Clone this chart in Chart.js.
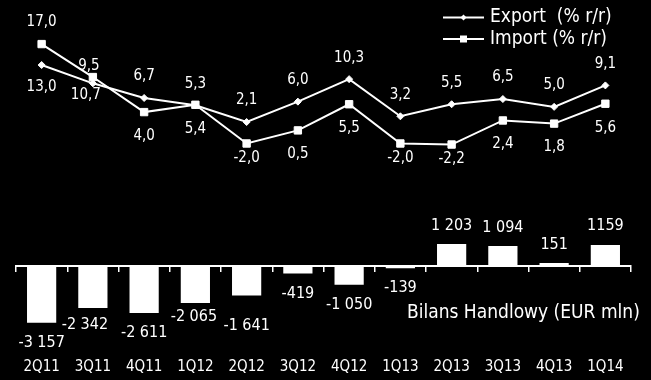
<!DOCTYPE html>
<html>
<head>
<meta charset="utf-8">
<script src="https://cdn.jsdelivr.net/npm/chart.js@4/dist/chart.umd.min.js"></script>
<style>
  html, body { margin: 0; padding: 0; background: #000; }
  #wrap { width: 651px; height: 380px; position: relative; }
</style>
</head>
<body>
<div id="wrap"><canvas id="c"></canvas></div>
<script>
// ---- data ----
const categories = ['2Q11','3Q11','4Q11','1Q12','2Q12','3Q12','4Q12','1Q13','2Q13','3Q13','4Q13','1Q14'];
const exportYoY = [13.0, 9.5, 6.7, 5.3, 2.1, 6.0, 10.3, 3.2, 5.5, 6.5, 5.0, 9.1];
const importYoY = [17.0, 10.7, 4.0, 5.4, -2.0, 0.5, 5.5, -2.0, -2.2, 2.4, 1.8, 5.6];
const tradeBalance = [-3157, -2342, -2611, -2065, -1641, -419, -1050, -139, 1203, 1094, 151, 1159];
const tradeBalanceLabels = ['-3 157','-2 342','-2 611','-2 065','-1 641','-419','-1 050','-139','1 203','1 094','151','1159'];
const seriesNames = ['Export  (% r/r)', 'Import (% r/r)'];
const balanceTitle = 'Bilans Handlowy (EUR mln)';

// ---- label placement (pixel nudges relative to each mark) ----
const exportLabelDx = [0,-4,0,0,0,0,0,0,0,0,0,0];
const exportLabelDy = [22,-17,-21.5,-21.5,-21.5,-21.5,-21.5,-21.5,-21.5,-21.5,-21.5,-21.5];
const importLabelDx = [0,-7,0,0,0,0,0,0,0,0,0,0];
const importLabelDy = [-22,18,24,24,15,24,24,15,15,24,24,24];
const barLabelDx = [0,-8,0,-1.5,0,0,0,0,0,0,0,0];
const barLabelDy = [20,17,20,14,30,20,20,20,-18.5,-18.5,-18.5,-19.5];

const FONT = '"DejaVu Sans Condensed", "DejaVu Sans", sans-serif';
const fmt = v => v.toFixed(1).replace('.', ',');

function drawMarker(ctx, style, x, y, r) {
  ctx.beginPath();
  if (style === 'rectRot') {
    ctx.moveTo(x - r, y); ctx.lineTo(x, y - r); ctx.lineTo(x + r, y); ctx.lineTo(x, y + r); ctx.closePath();
  } else {
    ctx.rect(x - r, y - r, 2 * r, 2 * r);
  }
  ctx.fill();
}

const overlay = {
  id: 'overlay',
  beforeDraw(chart) {
    const ctx = chart.ctx;
    ctx.save();
    ctx.fillStyle = '#000';
    ctx.fillRect(0, 0, chart.width, chart.height);
    ctx.restore();
  },
  afterDatasetsDraw(chart) {
    const ctx = chart.ctx;
    ctx.save();
    ctx.fillStyle = '#fff';
    ctx.textAlign = 'center';
    ctx.textBaseline = 'middle';
    ctx.font = '16px ' + FONT;
    chart.getDatasetMeta(0).data.forEach((el, i) => {
      ctx.fillText(tradeBalanceLabels[i], el.x + barLabelDx[i], el.y + barLabelDy[i]);
    });
    ctx.font = '15px ' + FONT;
    chart.getDatasetMeta(1).data.forEach((el, i) => {
      ctx.fillText(fmt(exportYoY[i]), el.x + exportLabelDx[i], el.y + exportLabelDy[i]);
    });
    chart.getDatasetMeta(2).data.forEach((el, i) => {
      ctx.fillText(fmt(importYoY[i]), el.x + importLabelDx[i], el.y + importLabelDy[i]);
    });
    ctx.restore();
  },
  afterDraw(chart) {
    const ctx = chart.ctx;
    ctx.save();
    ctx.fillStyle = '#fff';
    ctx.strokeStyle = '#fff';
    const rows = [
      { name: seriesNames[0], y: 17.5, style: 'rectRot', r: 3 },
      { name: seriesNames[1], y: 39, style: 'rect', r: 3.5 }
    ];
    ctx.font = '19px ' + FONT;
    ctx.textAlign = 'left';
    ctx.textBaseline = 'middle';
    rows.forEach(row => {
      ctx.lineWidth = 2;
      ctx.beginPath();
      ctx.moveTo(443, row.y); ctx.lineTo(484, row.y); ctx.stroke();
      drawMarker(ctx, row.style, 463.5, row.y, row.r);
      ctx.fillText(row.name, 490, row.y);
    });
    ctx.fillText(balanceTitle, 407, 313);
    ctx.restore();
  }
};

new Chart(document.getElementById('c'), {
  type: 'bar',
  data: {
    labels: categories,
    datasets: [
      {
        type: 'bar',
        label: balanceTitle,
        data: tradeBalance,
        yAxisID: 'y2',
        backgroundColor: '#fff',
        borderWidth: 0,
        barPercentage: 0.57,
        categoryPercentage: 1.0,
        order: 3
      },
      {
        type: 'line',
        label: seriesNames[0],
        data: exportYoY,
        yAxisID: 'y',
        borderColor: '#fff',
        backgroundColor: '#fff',
        borderWidth: 2,
        pointStyle: 'rectRot',
        pointRadius: 3.5,
        pointBorderWidth: 1,
        pointBorderColor: '#fff',
        pointBackgroundColor: '#fff',
        tension: 0,
        fill: false,
        order: 2
      },
      {
        type: 'line',
        label: seriesNames[1],
        data: importYoY,
        yAxisID: 'y',
        borderColor: '#fff',
        backgroundColor: '#fff',
        borderWidth: 2,
        pointStyle: 'rect',
        pointRadius: 5.2,
        pointBorderWidth: 1,
        pointBorderColor: '#fff',
        pointBackgroundColor: '#fff',
        tension: 0,
        fill: false,
        order: 1
      }
    ]
  },
  options: {
    responsive: true,
    maintainAspectRatio: false,
    animation: false,
    layout: { padding: { left: 16, right: 20, top: 0, bottom: 4 } },
    plugins: { legend: { display: false }, tooltip: { enabled: false } },
    scales: {
      x: {
        type: 'category',
        position: 'bottom',
        offset: true,
        grid: { display: false, drawTicks: false },
        border: { display: false },
        ticks: { color: '#fff', font: { family: FONT, size: 15 }, padding: 0, maxRotation: 0, autoSkip: false }
      },
      xz: {
        type: 'category',
        axis: 'x',
        position: { y2: 0 },
        offset: true,
        grid: { display: true, drawOnChartArea: false, drawTicks: true, tickLength: 5, color: '#fff', lineWidth: 1.5, offset: true },
        border: { display: true, color: '#fff', width: 2 },
        ticks: { display: false }
      },
      y: { display: false, min: -43.0, max: 24.24 },
      y2: { display: false, min: -5105, max: 14376 }
    }
  },
  plugins: [overlay]
});
</script>
</body>
</html>
